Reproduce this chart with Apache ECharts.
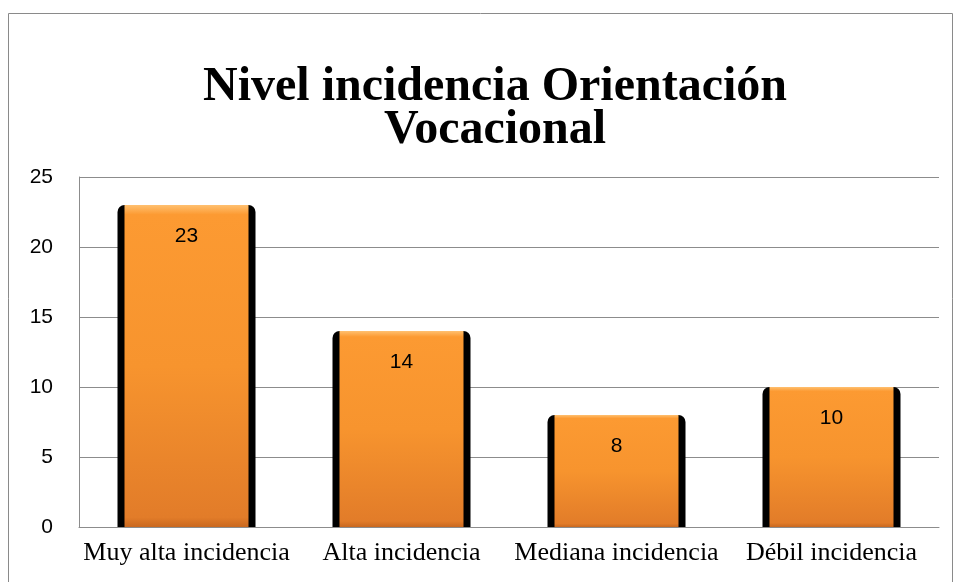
<!DOCTYPE html>
<html lang="es">
<head>
    <meta charset="UTF-8">
    <title>Nivel incidencia Orientación Vocacional</title>
    <script src="https://cdn.jsdelivr.net/npm/echarts@6.0.0/dist/echarts.min.js"></script>
    <style>
        html, body { margin: 0; padding: 0; background: #fff; }
        #chart { width: 955px; height: 582px; }
    </style>
</head>
<body>
<div id="chart"></div>
<script>
    const categories = ['Muy alta incidencia', 'Alta incidencia', 'Mediana incidencia', 'Débil incidencia'];
    const values = [23, 14, 8, 10];
    const yTicks = [0, 5, 10, 15, 20, 25];

    let myChart = echarts.init(document.getElementById('chart'));

    let option = {
        animation: false,
        title: {
            text: 'Nivel incidencia Orientación\nVocacional',
            left: 490, top: 61, textAlign: 'center',
            textStyle: { fontFamily: 'Liberation Serif', fontWeight: 'bold', fontSize: 48, lineHeight: 43, color: '#000' }
        },
        graphic: [{
            type: 'rect', shape: { x: 8.5, y: 13.5, width: 944, height: 600 },
            style: { fill: 'none', stroke: '#8a8a8a', lineWidth: 1 }, silent: true, z: -1
        }],
        grid: { left: 79, right: 16, top: 177, bottom: 55 },
        xAxis: [{
            type: 'category', data: categories,
            axisLine: { lineStyle: { color: '#8c8c8c' } },
            axisTick: { show: false },
            axisLabel: { interval: 0, hideOverlap: false, fontFamily: 'Liberation Serif', fontSize: 26, color: '#000', margin: 13 }
        }, {
            type: 'category', data: categories, show: false
        }],
        yAxis: {
            type: 'value', min: yTicks[0], max: yTicks[yTicks.length - 1], interval: 5,
            axisLine: { show: true, lineStyle: { color: '#8c8c8c' } },
            axisTick: { show: false },
            splitLine: { lineStyle: { color: '#8c8c8c' } },
            axisLabel: { fontFamily: 'Liberation Sans', fontSize: 21, color: '#000', margin: 26 }
        },
        series: [{
            type: 'bar', data: values, xAxisIndex: 0, barWidth: 138,
            itemStyle: { color: '#000', borderRadius: [7, 7, 0, 0] },
            z: 2
        }, {
            type: 'bar', data: values, xAxisIndex: 1, barWidth: 124,
            itemStyle: {
                color: new echarts.graphic.LinearGradient(0, 0, 0, 1, [
                    { offset: 0, color: '#ffc070' },
                    { offset: 0.03, color: '#fc9a32' },
                    { offset: 0.5, color: '#f7942e' },
                    { offset: 0.97, color: '#e27c29' },
                    { offset: 1, color: '#c9681f' }
                ])
            },
            label: {
                show: true, position: 'insideTop', distance: 21,
                fontFamily: 'Liberation Sans', fontSize: 21, color: '#000'
            },
            z: 3
        }]
    };

    myChart.setOption(option);
    window.onresize = function () {
        myChart.resize();
    };
</script>
</body>
</html>
